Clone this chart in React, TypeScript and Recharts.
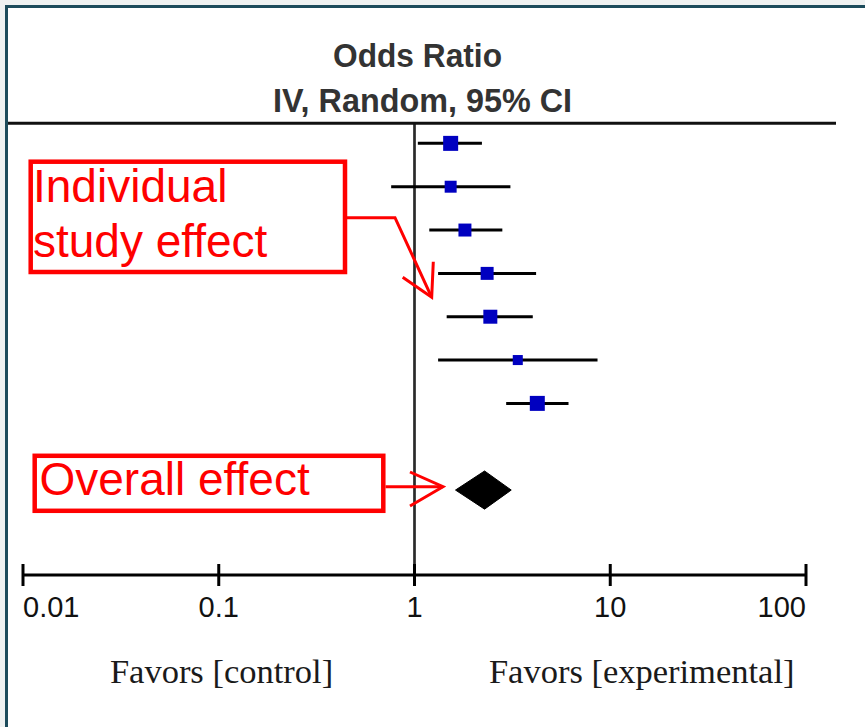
import { ComposedChart, XAxis, YAxis, Line, Area, Scatter, ReferenceLine } from "recharts";

// odds ratios, one entry per study (top to bottom)
const STUDY_OR = [1.53, 1.53, 1.81, 2.35, 2.44, 3.37, 4.24];
const STUDY_LO = [1.04, 0.76, 1.19, 1.32, 1.46, 1.32, 2.94];
const STUDY_HI = [2.21, 3.09, 2.81, 4.18, 4.02, 8.61, 6.12];
const STUDY_WEIGHT = [16.3, 13.0, 14.1, 14.1, 15.2, 10.9, 16.3];

// pooled estimate (diamond)
const POOLED_OR = 2.28;
const POOLED_LO = 1.62;
const POOLED_HI = 3.12;

const TICKS = [0.01, 0.1, 1, 10, 100];
const TICK_LABELS = ["0.01", "0.1", "1", "10", "100"];

const FONT_SANS = "'Liberation Sans', Arial, sans-serif";
const FONT_SERIF = "'Liberation Serif', 'Times New Roman', serif";
const RED = "#ff0000";
const DIAMOND_HALF = 0.44;

const studyRows = STUDY_OR.map((or, i) => ({ x: or, y: i, w: STUDY_WEIGHT[i] }));
const ciRows = STUDY_OR.flatMap((_, i) => [
  { x: STUDY_LO[i], y: i },
  { x: STUDY_HI[i], y: i },
  { x: STUDY_HI[i], y: null },
]);
const pooledRow = STUDY_OR.length + 1;
const diamondRows = [
  { x: POOLED_LO, y: [pooledRow, pooledRow] },
  { x: POOLED_OR, y: [pooledRow - DIAMOND_HALF, pooledRow + DIAMOND_HALF] },
  { x: POOLED_HI, y: [pooledRow, pooledRow] },
];

const AxisTick = (props: any) => {
  const { x, y, payload } = props;
  const idx = TICKS.indexOf(payload.value);
  const anchor = idx === 0 ? "start" : idx === TICKS.length - 1 ? "end" : "middle";
  return (
    <g>
      <line x1={x} x2={x} y1={y - 11} y2={y + 11} stroke="#000" strokeWidth={3} />
      <text x={x} y={y + 42} textAnchor={anchor} fontSize={29} fontFamily={FONT_SANS} fill="#111">
        {TICK_LABELS[idx]}
      </text>
    </g>
  );
};

const StudySquare = (props: any) => {
  const { cx, cy, payload } = props;
  const s = payload.w * 0.92;
  return <rect x={cx - s / 2} y={cy - s / 2} width={s} height={s} fill="#0000c0" />;
};

export default function App() {
  return (
    <div style={{ position: "absolute", left: 0, top: 0, width: 865, height: 727, background: "#fff" }}>
      <ComposedChart
        width={865}
        height={727}
        margin={{ top: 123, right: 59, left: 23, bottom: 52 }}
        style={{ position: "absolute", left: 0, top: 0 }}
      >
        <XAxis
          type="number"
          dataKey="x"
          scale="log"
          domain={[0.01, 100]}
          ticks={TICKS}
          interval={0}
          allowDataOverflow
          height={100}
          axisLine={{ stroke: "#000", strokeWidth: 3 }}
          tickLine={false}
          tickSize={0}
          tickMargin={0}
          tick={<AxisTick />}
        />
        <YAxis type="number" dataKey="y" domain={[-0.47, 9.96]} reversed hide allowDataOverflow />
        <ReferenceLine x={1} stroke="#2a2a2a" strokeWidth={2.7} />
        <Area
          data={diamondRows}
          dataKey="y"
          type="linear"
          fill="#000"
          fillOpacity={1}
          stroke="#000"
          strokeWidth={1}
          dot={false}
          activeDot={false}
          isAnimationActive={false}
        />
        <Line
          data={ciRows}
          dataKey="y"
          type="linear"
          stroke="#000"
          strokeWidth={3}
          dot={false}
          activeDot={false}
          connectNulls={false}
          isAnimationActive={false}
        />
        <Scatter data={studyRows} shape={<StudySquare />} isAnimationActive={false} />
      </ComposedChart>

      <svg width={865} height={727} style={{ position: "absolute", left: 0, top: 0, pointerEvents: "none" }}>
        <rect x={0} y={0} width={865} height={5} fill="#eef1f1" />
        <rect x={0} y={0} width={5} height={727} fill="#eef1f1" />
        <line x1={5} y1={6.5} x2={865} y2={6.5} stroke="#1c4b5b" strokeWidth={3} />
        <line x1={6.5} y1={5} x2={6.5} y2={727} stroke="#1c4b5b" strokeWidth={3} />

        <text x={417.5} y={67} textAnchor="middle" fontSize={34} fontWeight="bold" fontFamily={FONT_SANS} fill="#333"
          textLength={169} lengthAdjust="spacingAndGlyphs">
          Odds Ratio
        </text>
        <text x={422.5} y={112} textAnchor="middle" fontSize={34} fontWeight="bold" fontFamily={FONT_SANS} fill="#333"
          textLength={299} lengthAdjust="spacingAndGlyphs">
          IV, Random, 95% CI
        </text>
        <line x1={8} y1={123.3} x2={836} y2={123.3} stroke="#111" strokeWidth={3} />

        {/* individual study annotation */}
        <rect x={30.7} y={161.7} width={314.3} height={110.3} fill="none" stroke={RED} strokeWidth={4.5} />
        <text x={33} y={201.7} fontSize={46} fontFamily={FONT_SANS} fill={RED}>Individual</text>
        <text x={33} y={256.7} fontSize={46} fontFamily={FONT_SANS} fill={RED}>study effect</text>
        <polyline points="347,217.7 395,217.7 431.7,297.3" fill="none" stroke={RED} strokeWidth={3} />
        <polyline points="433.3,261.7 431.7,297.3 402.7,277.3" fill="none" stroke={RED} strokeWidth={3} />

        {/* overall effect annotation */}
        <rect x={34.7} y={455.8} width={348.6} height={55} fill="none" stroke={RED} strokeWidth={4.5} />
        <text x={39.5} y={495} fontSize={46} fontFamily={FONT_SANS} fill={RED}>Overall effect</text>
        <line x1={385.5} y1={486.7} x2={443} y2={486.7} stroke={RED} strokeWidth={3} />
        <polyline points="410,472 443,486.7 410,506" fill="none" stroke={RED} strokeWidth={3} />

        <text x={221.5} y={683} textAnchor="middle" fontSize={34.5} fontFamily={FONT_SERIF} fill="#1a1a1a">
          Favors [control]
        </text>
        <text x={641.7} y={683} textAnchor="middle" fontSize={34.5} fontFamily={FONT_SERIF} fill="#1a1a1a">
          Favors [experimental]
        </text>
      </svg>
    </div>
  );
}
